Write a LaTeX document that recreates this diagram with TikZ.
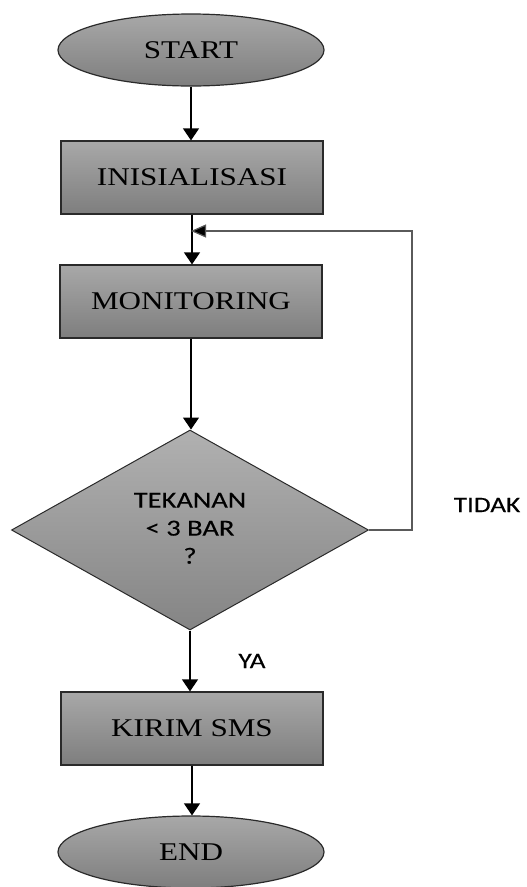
\documentclass[tikz,border=0pt]{standalone}
\usepackage{fontspec}
\usetikzlibrary{shapes.geometric,arrows.meta}
\newfontfamily\boxfont[FakeStretch=1.22]{Liberation Serif}
\newfontfamily\lblfont[FakeStretch=1.24,FakeBold=0.2]{Carlito}
\definecolor{shtop}{HTML}{A8A8A8}
\definecolor{shbot}{HTML}{7E7E7E}
\definecolor{edgec}{HTML}{2A2A2A}
\definecolor{loopc}{HTML}{5A5A5A}
\tikzset{
  box/.style={draw=edgec, line width=1.2pt, top color=shtop, bottom color=shbot,
    rectangle, minimum width=262pt, minimum height=73pt, inner sep=0pt,
    font=\boxfont\fontsize{25.5}{28}\selectfont},
  term/.style={draw=edgec, line width=1.2pt, top color=shtop, bottom color=shbot,
    ellipse, minimum width=266pt, minimum height=72pt, inner sep=0pt,
    font=\boxfont\fontsize{25.5}{28}\selectfont},
  decis/.style={draw=edgec, line width=1pt, top color=shtop!90!white, bottom color=shbot!95!white,
    diamond, aspect=1.78, minimum width=357pt, minimum height=200pt, inner sep=0pt,
    font=\lblfont\fontsize{23}{28}\selectfont},
  lbl/.style={font=\lblfont\fontsize{22}{24}\selectfont, inner sep=0pt},
  arr/.style={draw=black, line width=1.2pt, -{Triangle[width=16pt,length=12pt]}},
}
\begin{document}
\begin{tikzpicture}[x=1pt,y=-1pt]
\useasboundingbox (0,0) rectangle (527,887);
\node[term] (start) at (191,50) {START};
\node[box] (init) at (192,177.5) {INISIALISASI};
\node[box] (mon) at (191,301.5) {MONITORING};
\node[decis] (dec) at (190,530) {\raisebox{-3pt}{\begin{tabular}{@{}c@{}}TEKANAN\\< 3 BAR\\?\end{tabular}}};
\node[box] (sms) at (192,728.5) {KIRIM SMS};
\node[term] (end) at (191,852) {END};
\coordinate (j) at (191,231);
\coordinate (lc) at (412,231);
\node[lbl] (tidak) at (487,505) {TIDAK};
\node[lbl] (ya) at (252,661) {YA};
\draw[arr] (start) -- (start |- init.north);
\draw[arr] (init) -- (init |- mon.north);
\draw[arr] (mon) -- (mon |- dec.north);
\draw[arr] (dec) -- (dec |- sms.north);
\draw[arr] (sms) -- (sms |- end.north);
\draw[line width=1.2pt, draw=loopc, -{Triangle[width=13pt,length=15pt,fill=black]}] (dec.east) -| (lc) -- (j);
\end{tikzpicture}
\end{document}
